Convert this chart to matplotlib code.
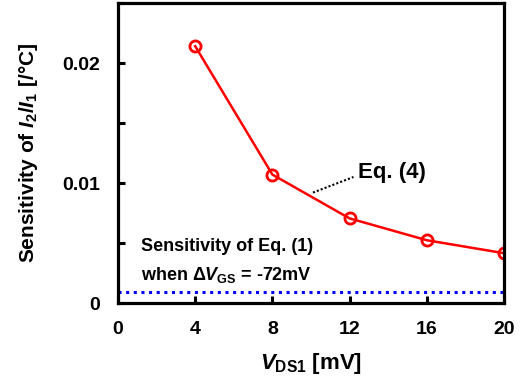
import numpy as np
import matplotlib.pyplot as plt

plt.rcParams['font.family'] = 'Liberation Sans'
plt.rcParams['font.weight'] = 'bold'
plt.rcParams['mathtext.fontset'] = 'custom'
plt.rcParams['mathtext.it'] = 'Liberation Sans:italic:bold'
plt.rcParams['mathtext.rm'] = 'Liberation Sans:bold'
plt.rcParams['mathtext.bf'] = 'Liberation Sans:bold'

vds = [4, 8, 12, 16, 20]
sens = [0.0214, 0.0107, 0.00705, 0.00523, 0.00415]
eq1_level = 0.0009

fig = plt.figure(figsize=(5.29, 3.84), dpi=100)
ax = fig.add_axes([118 / 529, 1 - 303 / 384, 386 / 529, 300 / 384])

ax.axhline(eq1_level, color='#0000ff', linestyle=(0, (1, 1.5)), linewidth=2.2)
ax.plot(vds, sens, '-', color='#ff0000', linewidth=1.8, marker='o', markersize=8,
        markerfacecolor='none', markeredgecolor='#ff0000', markeredgewidth=2)

# annotation for Eq. (4)
ax.plot([10.1, 12.2], [0.0092, 0.0105], color='black', linestyle=(0, (1, 1)), linewidth=1.5)
ax.text(12.45, 0.0109, 'Eq. (4)', fontsize=16, fontweight='bold', va='center', ha='left')

ax.text(1.2, 0.0043, 'Sensitivity of Eq. (1)', fontsize=13, fontweight='bold', va='baseline')
ax.text(1.2, 0.0019, r'when $\Delta V_{\mathrm{GS}}$ = -72mV', fontsize=13, fontweight='bold', va='baseline')

ax.set_xlim(0, 20)
ax.set_ylim(0, 0.025)
ax.set_xticks([0, 4, 8, 12, 16, 20])
ax.set_yticks([0, 0.005, 0.01, 0.015, 0.02, 0.025])
ax.set_yticklabels(['0', '', '0.01', '', '0.02', ''])
ax.tick_params(direction='in', length=5, width=2.2, labelsize=14, pad=13)
ax.tick_params(axis='y', pad=13)
for s in ax.spines.values():
    s.set_linewidth(2.3)

ax.set_xlabel(r'$V_{\mathrm{DS1}}$ [mV]', fontsize=16, fontweight='bold', labelpad=9)
ax.set_ylabel(r'Sensitivity of $I_2$/$I_1$ [/°C]', fontsize=15, fontweight='bold', labelpad=16)

fig.savefig('out.png', dpi=100)
